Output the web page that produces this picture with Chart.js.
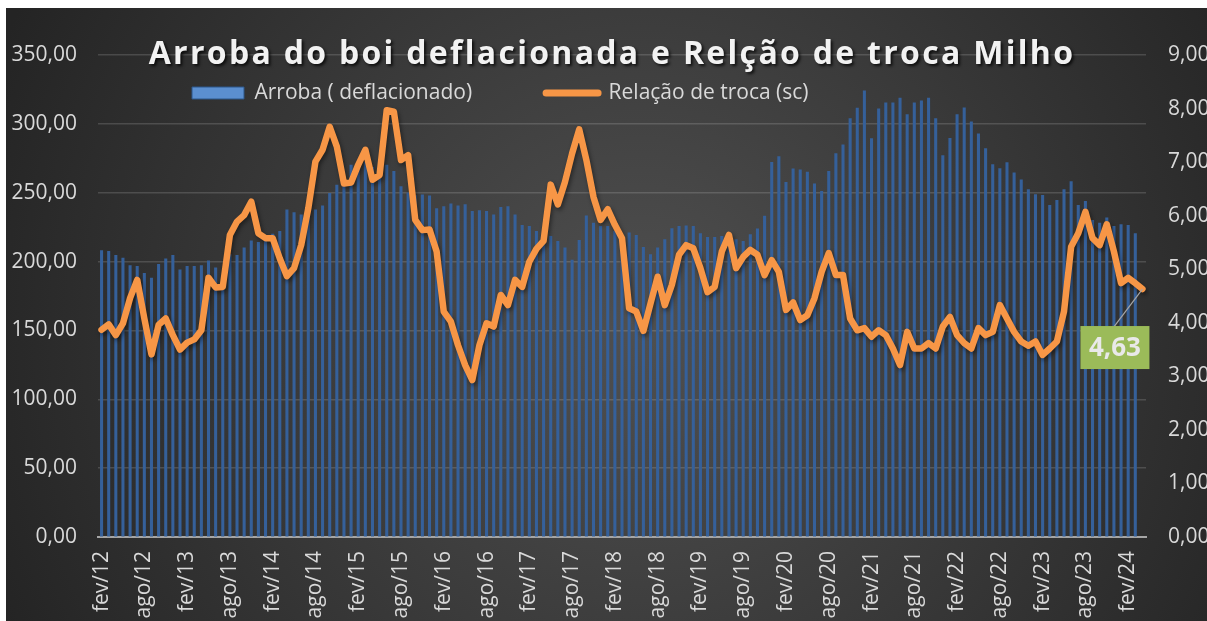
<!DOCTYPE html>
<html><head><meta charset="utf-8">
<script src="https://cdn.jsdelivr.net/npm/chart.js@4.4.1/dist/chart.umd.min.js"></script>
<style>
html,body{margin:0;padding:0;background:#fff;overflow:hidden;width:1207px;height:621px;}
#wrap{position:absolute;left:6px;top:8px;width:1212px;height:613px;}
</style></head><body>
<div id="wrap"><canvas id="c" width="1212" height="613"></canvas></div>
<script>
// ---- data ----
const monthNames = ['jan','fev','mar','abr','mai','jun','jul','ago','set','out','nov','dez'];
const firstYear = 2012;
const firstMonthIndex = 1; // fev
const arroba = [
208,207.5,204.5,202.5,197,196.5,191.5,188,198,202,204.5,194,
196.5,196.5,197,200.5,195.5,186,205,204.5,210,215,214,217,
220,222,237.5,235.5,234,236,237.5,240.5,249.5,255.5,262,270,
270,272,268.5,268,270,265.5,254.5,250,248,248.5,247.8,238.5,
240,242,240.5,241.3,236.5,237,236.5,234,239.4,240,234,226.3,
225.6,222,215,218.4,214.7,210,201,215.5,233.3,228,225.6,225.6,
222,218,220.8,219,210.4,205,210,216,224,225.6,226,225.6,
220.3,217.6,217.6,218.4,219.6,216,214.7,219.6,223.7,233,272,276.3,
257.5,267.4,266.7,265,256.5,251,265.5,278.5,284.7,303.8,311.5,324,
289.3,311,315.2,315.2,318.8,306.7,315.2,316.8,318.8,303.8,277,289.5,
306.7,311.7,301.4,292.8,282,270.5,267.5,271.8,264.4,259.4,252.3,248.7,
248.1,240.8,244.4,252.2,258,240.8,243.8,230,228,231.7,225.6,226.8,
226.3,220.3,null];
const relacao = [
3.87,3.97,3.77,3.99,4.46,4.80,4.08,3.41,3.96,4.08,3.77,3.50,
3.63,3.69,3.86,4.84,4.66,4.67,5.64,5.89,6.01,6.26,5.67,5.58,
5.58,5.20,4.87,5.02,5.45,6.14,7.01,7.23,7.66,7.29,6.60,6.62,
6.95,7.23,6.67,6.76,7.97,7.94,7.04,7.13,5.92,5.73,5.74,5.33,
4.21,4.02,3.58,3.21,2.93,3.58,3.99,3.93,4.52,4.33,4.80,4.67,
5.14,5.38,5.53,6.58,6.21,6.63,7.16,7.61,7.04,6.35,5.92,6.12,
5.83,5.58,4.27,4.21,3.85,4.36,4.86,4.33,4.71,5.27,5.45,5.39,
5.02,4.57,4.67,5.33,5.64,5.02,5.23,5.36,5.27,4.89,5.17,4.95,
4.24,4.38,4.05,4.14,4.46,4.95,5.30,4.89,4.89,4.08,3.86,3.90,
3.74,3.86,3.77,3.52,3.21,3.83,3.52,3.52,3.62,3.52,3.93,4.11,
3.77,3.62,3.52,3.90,3.77,3.83,4.33,4.08,3.83,3.65,3.57,3.65,
3.40,3.52,3.65,4.21,5.42,5.67,6.07,5.58,5.45,5.84,5.33,4.74,
4.84,4.74,4.63];
const categories = [];
for (let i = 0; i < relacao.length; i++) {
  const m = (firstMonthIndex + i) % 12;
  const y = firstYear + Math.floor((firstMonthIndex + i) / 12);
  categories.push(monthNames[m] + '/' + String(y).slice(2));
}
const titleText = 'Arroba do boi deflacionada e Relção de troca Milho';
const seriesNames = ['Arroba ( deflacionado)', 'Relação de troca (sc)'];

const fmt = v => Number(v).toFixed(2).replace('.', ',');
const FONT = 'Open Sans';

// ---- plugins ----
const bgPlugin = {
  id: 'bg',
  beforeDraw(chart) {
    const c = chart.ctx, w = chart.width, h = chart.height;
    c.save();
    const g = c.createRadialGradient(634, 322, 0, 634, 322, 700);
    g.addColorStop(0, '#505050');
    g.addColorStop(1, '#242424');
    c.fillStyle = g;
    c.fillRect(0, 0, w, h);
    c.restore();
  }
};
const overlayBoxes = {
  id: 'overlayBoxes',
  afterInit(chart) {
    [chart.titleBlock, chart.legend].forEach(box => {
      const up = box.update.bind(box);
      box.update = function (w, h, m) { up(w, h, m); this._fullH = this.height; this.height = 0; };
      box._layers = function () { return [{ z: 1, draw: (a) => box.draw(a) }]; };
    });
    const tb = chart.titleBlock; const d = tb.draw.bind(tb);
    tb.draw = function (area) {
      const c = chart.ctx; c.save();
      c.letterSpacing = '2.3px';
      c.shadowColor = 'rgba(0,0,0,0.75)'; c.shadowOffsetX = 2; c.shadowOffsetY = 2; c.shadowBlur = 3;
      d(area); c.restore();
    };
  },
  afterLayout(chart) {
    const tb = chart.titleBlock; tb.top = 28; tb.height = tb._fullH; tb.bottom = tb.top + tb._fullH;
    const lg = chart.legend; lg.left = 112; lg.right = 1200; lg.width = lg.right - lg.left;
    lg.top = 0.5; lg.height = lg._fullH; lg.bottom = lg.top + lg._fullH;
  }
};
const lineShadow = {
  id: 'lineShadow',
  beforeDatasetDraw(chart, args) {
    if (args.index === 1) { const c = chart.ctx; c.save(); c.shadowColor = 'rgba(0,0,0,0.45)'; c.shadowBlur = 4; c.shadowOffsetX = 1.5; c.shadowOffsetY = 2.5; }
  },
  afterDatasetDraw(chart, args) { if (args.index === 1) chart.ctx.restore(); }
};
const lastLabel = {
  id: 'lastLabel',
  afterDatasetsDraw(chart) {
    const meta = chart.getDatasetMeta(1);
    const i = relacao.length - 1;
    const p = meta.data[i];
    const c = chart.ctx;
    const bx = p.x - 62, by = p.y + 37, bw = 69, bh = 43;
    c.save();
    c.strokeStyle = '#a6a6a6'; c.lineWidth = 1.2;
    c.beginPath(); c.moveTo(p.x, p.y); c.lineTo(bx + 34, by); c.stroke();
    c.fillStyle = '#9bbb59';
    c.fillRect(bx, by, bw, bh);
    c.fillStyle = '#e9e9e9';
    c.font = 'bold 26px "' + FONT + '"';
    c.textAlign = 'center'; c.textBaseline = 'middle';
    c.fillText(fmt(relacao[i]), bx + bw / 2, by + bh / 2 + 1);
    c.restore();
  }
};

new Chart(document.getElementById('c'), {
  data: {
    labels: categories,
    datasets: [
      { type: 'bar', label: seriesNames[0], data: arroba, yAxisID: 'y', order: 1,
        backgroundColor: '#35609a', borderWidth: 0, barThickness: 2.4 },
      { type: 'line', label: seriesNames[1], data: relacao, yAxisID: 'y1', order: 0,
        borderColor: '#F79646', borderWidth: 6.5, pointRadius: 0, tension: 0,
        borderJoinStyle: 'round', borderCapStyle: 'round', fill: false }
    ]
  },
  options: {
    responsive: false, devicePixelRatio: 1, animation: false,
    layout: { padding: { top: 47, left: 0, right: 0, bottom: 0 } },
    plugins: {
      tooltip: { enabled: false },
      title: { display: true, text: titleText, color: '#f2f2f2', padding: 0,
        font: { family: FONT, size: 32, weight: 'bold' } },
      legend: { display: true, position: 'top', align: 'start',
        labels: { color: '#d9d9d9', font: { family: FONT, size: 21 }, usePointStyle: true,
          pointStyleWidth: 52, boxHeight: 12, padding: 74,
          generateLabels(chart) {
            return [
              { text: chart.data.datasets[0].label, fillStyle: '#5b8fd0', strokeStyle: '#2c568a', lineWidth: 1,
                pointStyle: 'rect', fontColor: '#d9d9d9', datasetIndex: 0, hidden: false },
              { text: chart.data.datasets[1].label, fillStyle: '#F79646', strokeStyle: '#F79646', lineWidth: 7,
                lineCap: 'round', pointStyle: 'line', fontColor: '#d9d9d9', datasetIndex: 1, hidden: false }
            ];
          } } }
    },
    scales: {
      x: {
        grid: { display: false, drawTicks: false },
        border: { display: true, color: '#a6a6a6', width: 2 },
        ticks: { autoSkip: false, minRotation: 90, maxRotation: 90, padding: 14, color: '#d9d9d9',
          font: { family: FONT, size: 21 },
          callback(v, i) { return i % 6 === 0 ? this.getLabelForValue(v) : ''; } },
        afterFit(s) { s.height = 84; }
      },
      y: {
        position: 'left', min: 0, max: 350,
        grid: { color: 'rgba(255,255,255,0.15)', lineWidth: 1.5, drawTicks: false },
        border: { display: false },
        ticks: { stepSize: 50, padding: 21, color: '#d9d9d9', font: { family: FONT, size: 21 }, callback: v => fmt(v) },
        afterFit(s) { s.width = 92; }
      },
      y1: {
        position: 'right', min: 0, max: 9,
        grid: { display: false, drawTicks: false },
        border: { display: false },
        ticks: { stepSize: 1, padding: 22, color: '#d9d9d9', font: { family: FONT, size: 21 }, callback: v => fmt(v) },
        afterFit(s) { s.width = 72; }
      }
    }
  },
  plugins: [bgPlugin, overlayBoxes, lineShadow, lastLabel]
});
</script>
</body></html>
